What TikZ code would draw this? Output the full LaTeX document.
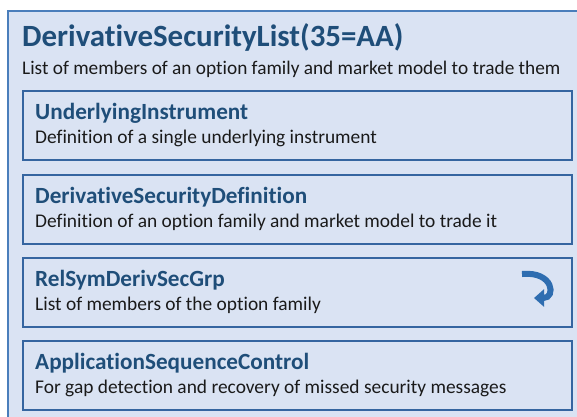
\documentclass[tikz,border=0pt]{standalone}
\usepackage{fontspec}
\setmainfont{Carlito}[Ligatures=NoCommon]
\usetikzlibrary{arrows.meta}
\definecolor{boxfill}{HTML}{DAE3F3}
\definecolor{outerline}{HTML}{4A7EBB}
\definecolor{innerline}{HTML}{3565A0}
\definecolor{titleblue}{HTML}{1F4E79}
\definecolor{bodytext}{HTML}{1A1A1A}
\definecolor{iconblue}{HTML}{2E6DB0}
\tikzset{
  outerbox/.style={draw=outerline, line width=1.5pt, fill=boxfill},
  innerbox/.style={draw=innerline, line width=1.8pt, fill=boxfill, inner sep=0pt,
    minimum width=549pt, minimum height=69pt, anchor=north west},
  titletext/.style={anchor=base west, inner sep=0pt, text=titleblue, font=\fontsize{30.9}{33}\selectfont\bfseries},
  subtext/.style={anchor=base west, inner sep=0pt, text=bodytext, font=\fontsize{19.3}{21}\selectfont},
  headtext/.style={anchor=base west, inner sep=0pt, text=titleblue, font=\fontsize{23.2}{25}\selectfont\bfseries},
  desctext/.style={anchor=base west, inner sep=0pt, text=bodytext, font=\fontsize{19.4}{21}\selectfont},
}
\begin{document}
\begin{tikzpicture}[x=1pt,y=1pt]
\useasboundingbox (0,0) rectangle (577,-416);
\clip (0,0) rectangle (577,-416);
\fill[white] (0,0) rectangle (577,-416);
\draw[outerbox] (8,-11) rectangle (590,-430);
\node[titletext] (title) at (22,-46.5) {DerivativeSecurityList(35=AA)};
\node[subtext] (sub) at (22,-74) {List of members of an option family and market model to trade them};

\node[innerbox] (b1) at (22,-90) {};
\node[headtext] (h1) at (35,-119) {UnderlyingInstrument};
\node[desctext] (d1) at (35,-143.5) {Definition of a single underlying instrument};

\node[innerbox] (b2) at (22,-174) {};
\node[headtext] (h2) at (35,-203) {DerivativeSecurityDefinition};
\node[desctext] (d2) at (35,-227.5) {Definition of an option family and market model to trade it};

\node[innerbox] (b3) at (22,-257) {};
\node[headtext] (h3) at (35,-286) {RelSymDerivSecGrp};
\node[desctext] (d3) at (35,-310.5) {List of members of the option family};

\node[innerbox] (b4) at (22,-340) {};
\node[headtext] (h4) at (35,-369) {ApplicationSequenceControl};
\node[desctext] (d4) at (35,-393.5) {For gap detection and recovery of missed security messages};

\coordinate (i1) at (522,-274);
\coordinate (i2) at (534,-298);
\draw[iconblue, line width=6pt, -{Triangle[width=17pt,length=10pt]}]
  (i1) .. controls (554,-271) and (556,-298) .. (i2);
\end{tikzpicture}
\end{document}
